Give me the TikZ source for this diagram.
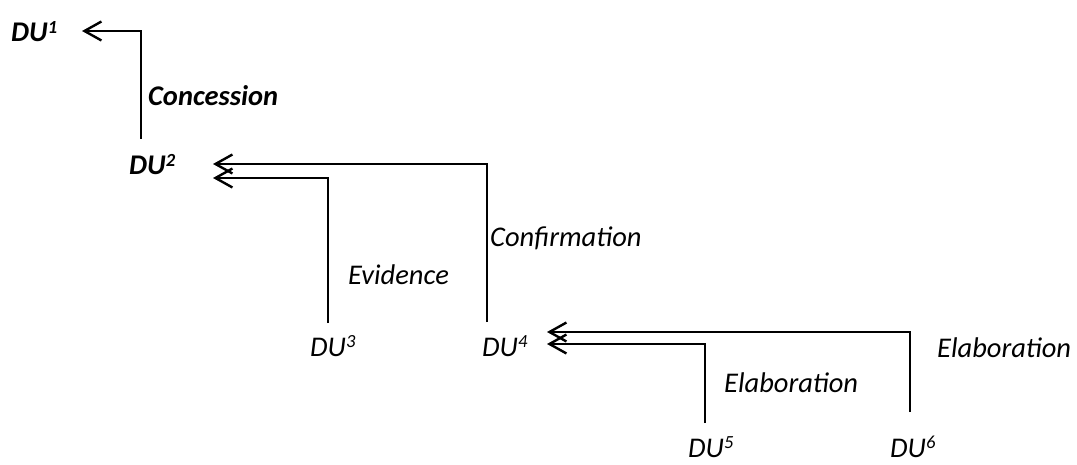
\documentclass[tikz,border=0pt]{standalone}
\usepackage{fontspec}
\setmainfont{Carlito}
\usetikzlibrary{arrows.meta}
\newcommand\sups[1]{\raisebox{8.5pt}{\fontsize{18.5}{18.5}\selectfont #1}}
\tikzset{
  lbl/.style={inner sep=0pt, anchor=base west, font=\fontsize{28.5}{30}\selectfont\itshape},
  lblb/.style={lbl, font=\fontsize{28.5}{30}\selectfont\bfseries\itshape},
  arr/.style={line width=2.2pt, -{Straight Barb[length=17pt,width=19pt,line width=2.4pt]}},
}
\begin{document}
\begin{tikzpicture}[x=1pt,y=-1pt]
\useasboundingbox (0,0) rectangle (1077,465);
% unit nodes
\node[lblb] (du1) at (11,42) {DU\sups{1}};
\node[lblb] (du2) at (129,175) {DU\sups{2}};
\node[lbl] (du3) at (310,356) {DU\sups{3}};
\node[lbl] (du4) at (482,356) {DU\sups{4}};
\node[lbl] (du5) at (688,457) {DU\sups{5}};
\node[lbl] (du6) at (890,457) {DU\sups{6}};
% relation labels
\node[lblb] (lconc) at (148,106) {Concession};
\node[lbl] (levid) at (348,285) {Evidence};
\node[lbl] (lconf) at (490,247) {Confirmation};
\node[lbl] (lelab1) at (724,392) {Elaboration};
\node[lbl] (lelab2) at (937,357) {Elaboration};
% connector anchors
\coordinate (s21) at (141,139);
\coordinate (t1) at (82,31);
\coordinate (s42) at (487,322);
\coordinate (t2a) at (213,164);
\coordinate (s32) at (328,323);
\coordinate (t2b) at (213,178);
\coordinate (s64) at (910,412);
\coordinate (t4a) at (547,332);
\coordinate (s54) at (705,423);
\coordinate (t4b) at (547,344);
% connectors
\draw[arr] (s21) |- (t1);
\draw[arr] (s42) |- (t2a);
\draw[arr] (s32) |- (t2b);
\draw[arr] (s64) |- (t4a);
\draw[arr] (s54) |- (t4b);
\end{tikzpicture}
\end{document}
